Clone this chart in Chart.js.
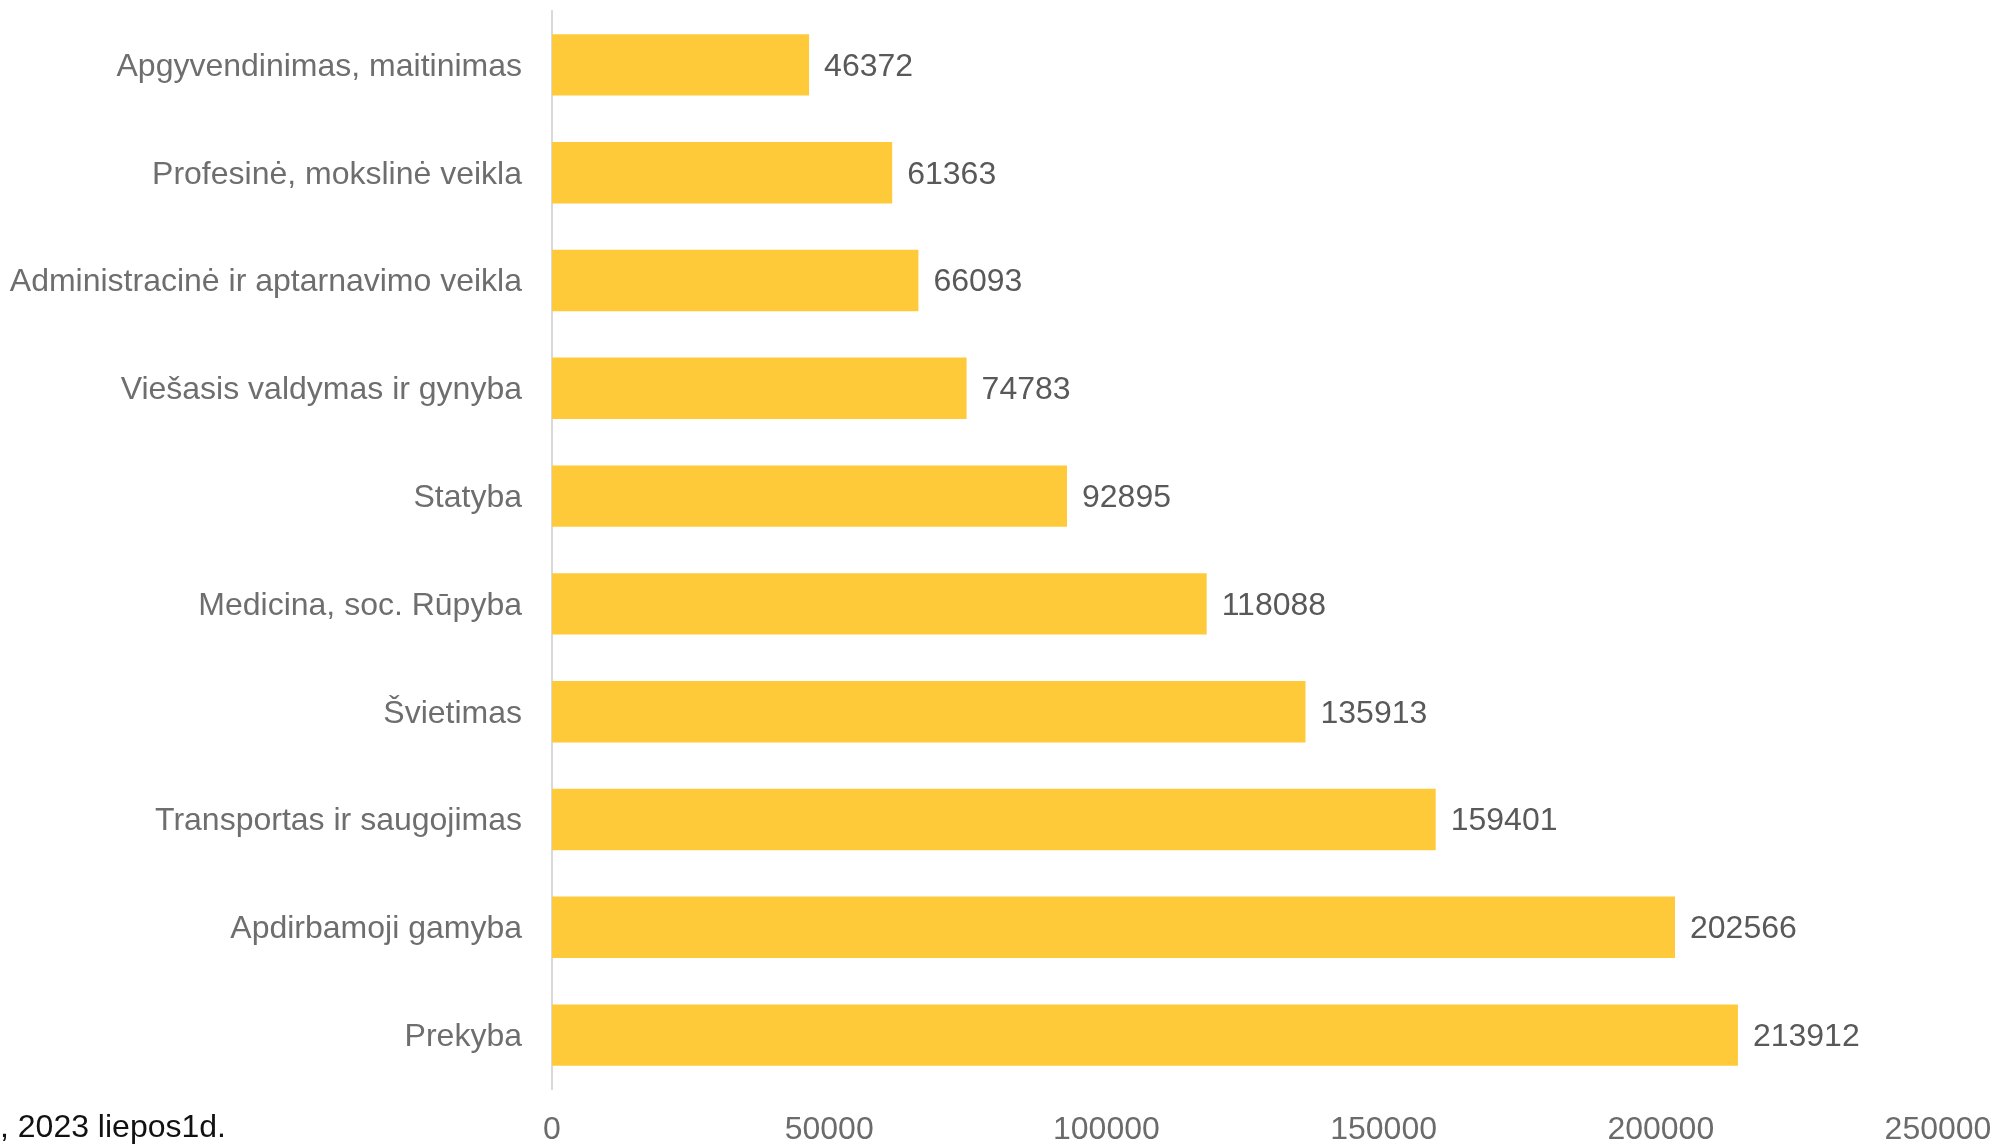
<!DOCTYPE html>
<html>
<head>
<meta charset="utf-8">
<script src="https://cdn.jsdelivr.net/npm/chart.js@4/dist/chart.umd.min.js"></script>
<style>
  html, body { margin: 0; padding: 0; background: #fff; }
  #wrap { position: relative; width: 1998px; height: 1144px; }
</style>
</head>
<body>
<div id="wrap"><canvas id="chart"></canvas></div>
<script>
// Data
const categories = [
    "Apgyvendinimas, maitinimas",
    "Profesinė, mokslinė veikla",
    "Administracinė ir aptarnavimo veikla",
    "Viešasis valdymas ir gynyba",
    "Statyba",
    "Medicina, soc. Rūpyba",
    "Švietimas",
    "Transportas ir saugojimas",
    "Apdirbamoji gamyba",
    "Prekyba"
];
const values = [46372, 61363, 66093, 74783, 92895, 118088, 135913, 159401, 202566, 213912];
const xTicks = [0, 50000, 100000, 150000, 200000, 250000];
const footnote = ", 2023 liepos1d.";

const FONT = "'Liberation Sans', Arial, sans-serif";

// value labels at the end of each bar + footnote text
const labelPlugin = {
    id: 'labels',
    afterDatasetsDraw(chart) {
        const ctx = chart.ctx;
        const meta = chart.getDatasetMeta(0);
        ctx.save();
        ctx.font = "32px " + FONT;
        ctx.fillStyle = "#595959";
        ctx.textAlign = "left";
        ctx.textBaseline = "middle";
        meta.data.forEach((bar, i) => {
            ctx.fillText(String(values[i]), bar.x + 15, bar.y + 2);
        });
        ctx.fillStyle = "#111";
        ctx.fillText(footnote, 0, 1128);
        ctx.restore();
    }
};

new Chart(document.getElementById('chart'), {
    type: 'bar',
    data: {
        labels: categories,
        datasets: [{
            data: values,
            backgroundColor: '#FFCA3A',
            categoryPercentage: 1,
            barPercentage: 0.57
        }]
    },
    options: {
        indexAxis: 'y',
        responsive: true,
        maintainAspectRatio: false,
        devicePixelRatio: 1,
        animation: false,
        layout: { padding: { top: 11, right: 60, left: 0, bottom: 0 } },
        plugins: {
            legend: { display: false },
            tooltip: { enabled: false }
        },
        scales: {
            x: {
                min: xTicks[0],
                max: xTicks[xTicks.length - 1],
                afterBuildTicks: s => { s.ticks = xTicks.map(v => ({ value: v })); },
                afterFit: s => { s.height = 55; s.paddingLeft = 0; s.paddingRight = 0; },
                grid: { display: false, drawTicks: false },
                border: { display: false },
                ticks: {
                    color: '#6b6b6b',
                    font: { family: FONT, size: 32 },
                    padding: 22,
                    maxRotation: 0,
                    callback: v => String(v)
                }
            },
            y: {
                afterFit: s => { s.width = 552; s.paddingTop = 0; s.paddingBottom = 0; },
                grid: { display: true, drawOnChartArea: false, drawTicks: false, color: '#d9d9d9' },
                border: { display: true, color: '#d9d9d9', width: 2 },
                ticks: {
                    color: '#6e6e6e',
                    font: { family: FONT, size: 32 },
                    padding: 30,
                    labelOffset: 2
                }
            }
        }
    },
    plugins: [labelPlugin]
});
</script>
</body>
</html>
